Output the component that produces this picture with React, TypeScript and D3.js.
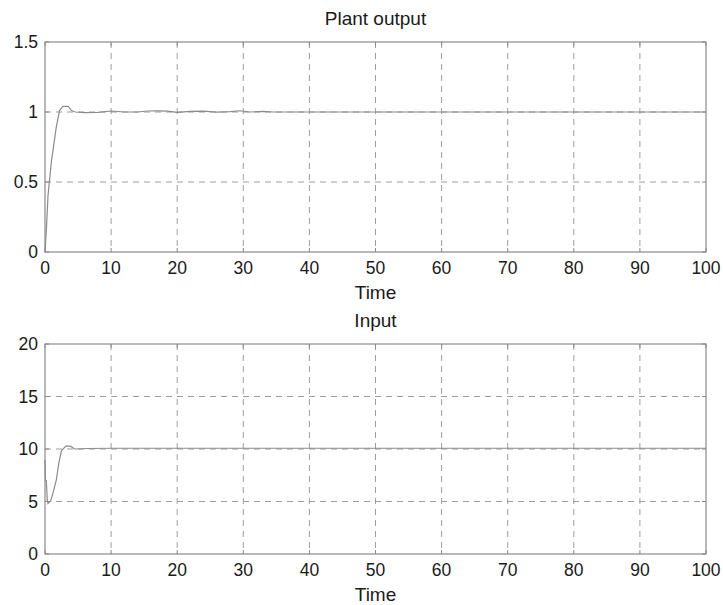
import React from "react";
import * as d3 from "d3";

// Simulation time axis and the plant's response to the controller
const outputTime = [0, 0.2, 0.45, 0.95, 1.7, 2.2, 2.7, 3.5, 4, 4.6, 6, 8, 10, 12, 14, 15.5, 17, 18.5, 20, 22, 24, 26, 28, 29.5, 31, 33, 34.5, 36, 100];
const outputValue = [0, 0.15, 0.4, 0.64, 0.89, 1.01, 1.04, 1.04, 1.01, 1.0, 0.995, 0.998, 1.007, 1.0, 1.0, 1.007, 1.008, 1.006, 0.998, 1.004, 1.006, 0.999, 1.003, 1.009, 1.0, 1.004, 1.0, 1.0, 1.0];

// Control input applied to the plant
const inputTime = [0, 0.08, 0.2, 0.35, 0.45, 0.85, 1.2, 1.7, 2.1, 2.5, 3.2, 3.9, 4.5, 6.5, 10, 20, 100];
const inputValue = [8.95, 7.0, 7.0, 5.1, 4.8, 5.05, 5.8, 7.0, 8.7, 9.85, 10.3, 10.25, 10.0, 10.05, 10.07, 10.07, 10.07];

const xTicks = [0, 10, 20, 30, 40, 50, 60, 70, 80, 90, 100];
const outputTicks = [0, 0.5, 1, 1.5];
const outputTickLabels = ["0", "0.5", "1", "1.5"];
const inputTicks = [0, 5, 10, 15, 20];
const inputTickLabels = ["0", "5", "10", "15", "20"];

const FONT = "'Liberation Sans', Arial, sans-serif";

type PanelProps = {
  title: string;
  top: number;
  bottom: number;
  yDomain: [number, number];
  yTicks: number[];
  yLabels: string[];
  xs: number[];
  ys: number[];
};

function Panel({ title, top, bottom, yDomain, yTicks, yLabels, xs, ys }: PanelProps) {
  const left = 45;
  const right = 706;
  const x = d3.scaleLinear().domain([0, 100]).range([left, right]);
  const y = d3.scaleLinear().domain(yDomain).range([bottom, top]);
  const line = d3
    .line<number>()
    .x((_, i) => x(xs[i]))
    .y((_, i) => y(ys[i]));
  const gridColor = "#9e9e9e";
  const axisColor = "#8a8a8a";
  return (
    <g>
      <text x={(left + right) / 2} y={top - 17} textAnchor="middle" fontSize={19} fill="#1a1a1a" fontFamily={FONT}>
        {title}
      </text>
      {/* dashed grid */}
      {xTicks.slice(1, -1).map((t) => (
        <line key={"gx" + t} x1={x(t)} x2={x(t)} y1={top} y2={bottom} stroke={gridColor} strokeWidth={1} strokeDasharray="6 5" />
      ))}
      {yTicks.slice(1, -1).map((t) => (
        <line key={"gy" + t} x1={left} x2={right} y1={y(t)} y2={y(t)} stroke={gridColor} strokeWidth={1} strokeDasharray="6 5" />
      ))}
      {/* axes box */}
      <rect x={left} y={top} width={right - left} height={bottom - top} fill="none" stroke={axisColor} strokeWidth={1.2} />
      {/* tick marks */}
      {xTicks.map((t) => (
        <g key={"tx" + t}>
          <line x1={x(t)} x2={x(t)} y1={bottom} y2={bottom - 4} stroke={axisColor} />
          <line x1={x(t)} x2={x(t)} y1={top} y2={top + 4} stroke={axisColor} />
          <text x={x(t)} y={bottom + 22} textAnchor="middle" fontSize={17.5} fill="#1a1a1a" fontFamily={FONT}>
            {t}
          </text>
        </g>
      ))}
      {yTicks.map((t, i) => (
        <g key={"ty" + t}>
          <line x1={left} x2={left + 4} y1={y(t)} y2={y(t)} stroke={axisColor} />
          <line x1={right} x2={right - 4} y1={y(t)} y2={y(t)} stroke={axisColor} />
          <text x={left - 7} y={y(t) + 6} textAnchor="end" fontSize={17.5} fill="#1a1a1a" fontFamily={FONT}>
            {yLabels[i]}
          </text>
        </g>
      ))}
      <text x={(left + right) / 2} y={bottom + 47} textAnchor="middle" fontSize={19} fill="#1a1a1a" fontFamily={FONT}>
        Time
      </text>
      <path d={line(xs) ?? ""} fill="none" stroke="#8c8c8c" strokeWidth={1.2} />
    </g>
  );
}

export default function App() {
  return (
    <svg width={723} height={605} style={{ position: "absolute", left: 0, top: 0, background: "#fff" }}>
      <rect width={723} height={605} fill="#fff" />
      <Panel
        title="Plant output"
        top={42}
        bottom={252}
        yDomain={[0, 1.5]}
        yTicks={outputTicks}
        yLabels={outputTickLabels}
        xs={outputTime}
        ys={outputValue}
      />
      <Panel
        title="Input"
        top={344}
        bottom={554}
        yDomain={[0, 20]}
        yTicks={inputTicks}
        yLabels={inputTickLabels}
        xs={inputTime}
        ys={inputValue}
      />
    </svg>
  );
}
